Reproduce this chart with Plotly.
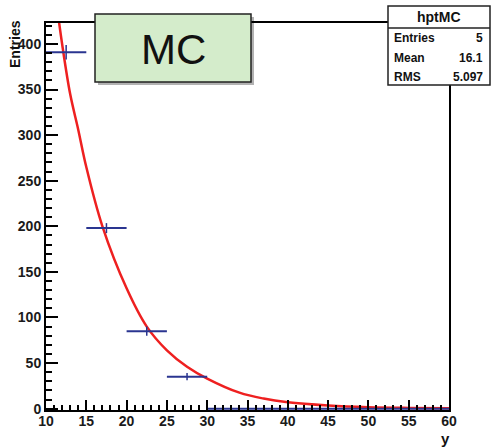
import plotly.graph_objects as go

# ---- data ----
bin_edges = [10, 15, 20, 25, 30, 35, 40, 45, 50, 55, 60]
bin_counts = [391, 198, 85, 35, 0, 0, 0, 0, 0, 0]
bin_errors = [8, 5.5, 5, 4, 0, 0, 0, 0, 0, 0]

fit_x = [10, 11, 12, 13, 14, 15, 17, 20, 22.5, 25, 27.5, 30, 34, 37, 40, 45, 50, 55, 60]
fit_y = [535, 465, 400, 345, 306, 265, 200, 132, 90, 64, 46, 33, 17.5, 11, 7, 3.5, 1.6, 0.8, 0.4]

x_ticks = [10, 15, 20, 25, 30, 35, 40, 45, 50, 55, 60]
y_ticks = [0, 50, 100, 150, 200, 250, 300, 350, 400]

stats_title = "hptMC"
stats_rows = [("Entries", "5"), ("Mean", "16.1"), ("RMS", "5.097")]
label_text = "MC"

centers = [(a + b) / 2 for a, b in zip(bin_edges[:-1], bin_edges[1:])]
halfw = [(b - a) / 2 for a, b in zip(bin_edges[:-1], bin_edges[1:])]

W, H = 500, 447
L, R, T, B = 46, 51, 23, 37
PW, PH = W - L - R, H - T - B


def px(x):
    return (x - L) / PW


def py(y):
    return (H - B - y) / PH


FONT = "Liberation Sans, Arial, Helvetica, sans-serif"
BLUE = "#2a3590"
RED = "#ee2020"

fig = go.Figure()

fig.add_trace(go.Scatter(
    x=fit_x, y=fit_y, mode="lines",
    line=dict(color=RED, width=2.5, shape="spline"),
    hoverinfo="skip", showlegend=False,
))

fig.add_trace(go.Scatter(
    x=centers, y=bin_counts, mode="markers",
    marker=dict(size=1, color=BLUE, opacity=0),
    error_x=dict(type="data", array=halfw, color=BLUE, thickness=2, width=0),
    error_y=dict(type="data", array=bin_errors, color=BLUE, thickness=1.5, width=0),
    showlegend=False,
))

fig.update_xaxes(
    range=[10, 60], tickvals=x_ticks, ticktext=[str(v) for v in x_ticks],
    ticks="inside", ticklen=10, tickwidth=1.5, tickcolor="black",
    minor=dict(ticks="inside", dtick=1, ticklen=5, tickwidth=1.5, tickcolor="black"),
    showline=True, linecolor="black", linewidth=2, mirror=True,
    showgrid=False, zeroline=False, ticklabelstandoff=-3,
    tickfont=dict(family=FONT, size=14, color="#1a1a1a", weight="bold"),
)
fig.update_yaxes(
    range=[-1.5, 423], tickvals=y_ticks, ticktext=[str(v) for v in y_ticks],
    ticks="inside", ticklen=12, tickwidth=1.5, tickcolor="black",
    minor=dict(ticks="inside", dtick=10, ticklen=6, tickwidth=1.5, tickcolor="black"),
    showline=True, linecolor="black", linewidth=2, mirror=True,
    showgrid=False, zeroline=False,
    tickfont=dict(family=FONT, size=14, color="#1a1a1a", weight="bold"),
)

shapes = []
annotations = []

# MC label box with shadow
shapes.append(dict(type="rect", xref="paper", yref="paper",
                   x0=px(98), x1=px(254), y0=py(85), y1=py(17),
                   fillcolor="rgba(0,0,0,0.3)", line=dict(width=0), layer="above"))
shapes.append(dict(type="rect", xref="paper", yref="paper",
                   x0=px(95), x1=px(251), y0=py(82), y1=py(14),
                   fillcolor="#d4eccb", line=dict(color="#222", width=1.5), layer="above"))
annotations.append(dict(xref="paper", yref="paper", x=px(173), y=py(49),
                        text=label_text, showarrow=False, xanchor="center", yanchor="middle",
                        font=dict(family=FONT, size=42, color="#111")))

# Stats box
shapes.append(dict(type="rect", xref="paper", yref="paper",
                   x0=px(388), x1=px(490), y0=py(85), y1=py(6),
                   fillcolor="white", line=dict(color="#222", width=1.5), layer="above"))
shapes.append(dict(type="line", xref="paper", yref="paper",
                   x0=px(388), x1=px(490), y0=py(28), y1=py(28),
                   line=dict(color="#222", width=1.5), layer="above"))
annotations.append(dict(xref="paper", yref="paper", x=px(439), y=py(17),
                        text=stats_title, showarrow=False, xanchor="center", yanchor="middle",
                        font=dict(family=FONT, size=14, color="#111", weight="bold")))
row_y = [38, 58, 77]
for (lab, val), yy in zip(stats_rows, row_y):
    annotations.append(dict(xref="paper", yref="paper", x=px(392), y=py(yy),
                            text=lab, showarrow=False, xanchor="left", yanchor="middle",
                            font=dict(family=FONT, size=12, color="#111", weight="bold")))
    annotations.append(dict(xref="paper", yref="paper", x=px(485), y=py(yy),
                            text=val, showarrow=False, xanchor="right", yanchor="middle",
                            font=dict(family=FONT, size=12, color="#111", weight="bold")))

# axis titles
annotations.append(dict(xref="paper", yref="paper", x=px(15), y=py(44),
                        text="Entries", showarrow=False, textangle=-90,
                        xanchor="center", yanchor="middle",
                        font=dict(family=FONT, size=14, color="#111", weight="bold")))
annotations.append(dict(xref="paper", yref="paper", x=px(445), y=py(438),
                        text="y", showarrow=False, xanchor="center", yanchor="middle",
                        font=dict(family=FONT, size=15, color="#111", weight="bold")))

fig.update_layout(
    width=W, height=H,
    margin=dict(l=L, r=R, t=T, b=B),
    paper_bgcolor="white", plot_bgcolor="white",
    shapes=shapes, annotations=annotations,
    showlegend=False,
)

fig.write_html("out.html")
